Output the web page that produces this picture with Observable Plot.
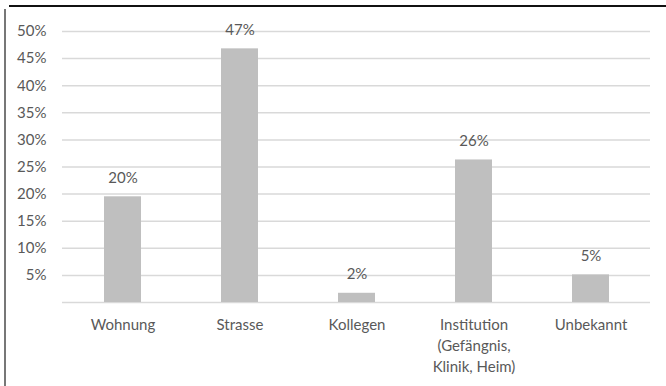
<!DOCTYPE html>
<html>
<head>
<meta charset="utf-8">
<script src="https://cdn.jsdelivr.net/npm/d3@7"></script>
<script src="https://cdn.jsdelivr.net/npm/@observablehq/plot@0.6"></script>
<style>
  html, body { margin: 0; padding: 0; background: #fff; }
  #wrap { position: relative; width: 666px; height: 386px; overflow: hidden; }
  #topline { position: absolute; left: 9px; top: 5px; width: 657px; height: 2px; background: #111; }
  #leftline { position: absolute; left: 4px; top: 9px; width: 2px; height: 377px; background: #777; }
  #chart { position: absolute; left: 0; top: 0; }
</style>
</head>
<body>
<div id="wrap">
  <div id="chart"></div>
  <div id="topline"></div>
  <div id="leftline"></div>
</div>
<script>
const categories = ["Wohnung", "Strasse", "Kollegen", "Institution\n(Gefängnis,\nKlinik, Heim)", "Unbekannt"];
const values = [0.195, 0.468, 0.017, 0.263, 0.051];
const valueLabels = ["20%", "47%", "2%", "26%", "5%"];
const yTicks = [0.05, 0.10, 0.15, 0.20, 0.25, 0.30, 0.35, 0.40, 0.45, 0.50];
const gridTicks = [0, 0.05, 0.10, 0.15, 0.20, 0.25, 0.30, 0.35, 0.40, 0.45, 0.50];

const data = categories.map((c, i) => ({cat: c, value: values[i], label: valueLabels[i]}));

const chart = Plot.plot({
  width: 666,
  height: 386,
  marginLeft: 62,
  marginRight: 16,
  marginTop: 31,
  marginBottom: 84,
  style: {fontFamily: "Lato, sans-serif", fontSize: "15px", color: "#595959", background: "transparent"},
  x: {domain: categories, paddingInner: 0.685, paddingOuter: 0.3425, label: null},
  y: {domain: [0, 0.5], label: null},
  marks: [
    Plot.gridY(gridTicks, {stroke: "#d9d9d9", strokeOpacity: 1, strokeWidth: 1.5}),
    Plot.barY(data, {x: "cat", y: "value", fill: "#bfbfbf"}),
    Plot.text(data, {x: "cat", y: "value", text: "label", dy: -19, fill: "#595959", fontSize: 15}),
    Plot.axisY(yTicks, {tickSize: 0, tickPadding: 16, tickFormat: d => Math.round(d * 100) + "%", label: null, fill: "#595959", fontSize: 15}),
    Plot.axisX({tickSize: 0, tickPadding: 13, label: null, fill: "#595959", fontSize: 15, lineHeight: 1.4})
  ]
});
document.getElementById("chart").appendChild(chart);
</script>
</body>
</html>
